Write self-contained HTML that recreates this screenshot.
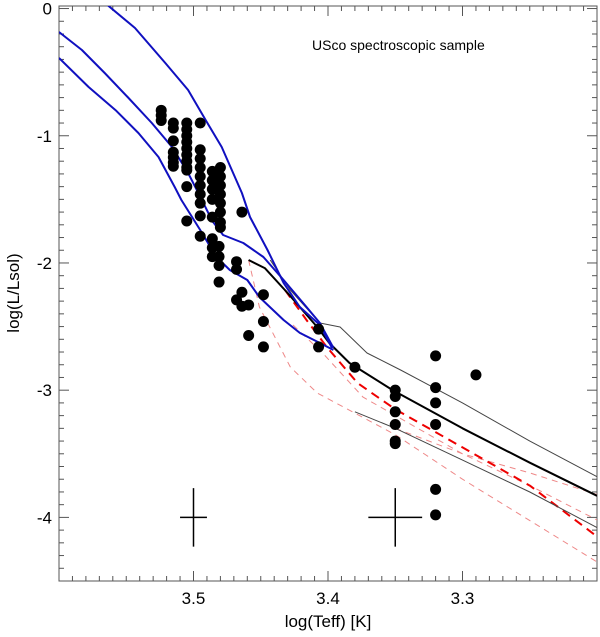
<!DOCTYPE html>
<html><head><meta charset="utf-8"><style>
body{margin:0;background:#fff;}
svg{display:block;font-family:"Liberation Sans",sans-serif;}
</style></head><body>
<svg id="chart" width="600" height="637" xmlns="http://www.w3.org/2000/svg"></svg>
<script>
const xTicks=[3.5,3.4,3.3];
const xTickLabels=["3.5","3.4","3.3"];
const yTicks=[0,-1,-2,-3,-4];
const yTickLabels=["0","-1","-2","-3","-4"];
const starT=[3.524,3.524,3.524,3.515,3.515,3.515,3.515,3.515,3.515,3.515,3.505,3.505,3.505,3.505,3.505,3.505,3.505,3.505,3.505,3.505,3.505,3.495,3.495,3.495,3.495,3.495,3.495,3.495,3.495,3.495,3.495,3.486,3.486,3.486,3.486,3.486,3.486,3.486,3.486,3.48,3.48,3.48,3.48,3.48,3.48,3.48,3.48,3.481,3.481,3.481,3.481,3.464,3.468,3.468,3.464,3.468,3.464,3.459,3.448,3.448,3.459,3.448,3.407,3.407,3.38,3.35,3.35,3.35,3.35,3.35,3.35,3.32,3.32,3.32,3.32,3.32,3.32,3.29];
const starL=[-0.8,-0.84,-0.88,-0.9,-0.94,-1.04,-1.13,-1.17,-1.21,-1.24,-0.9,-0.95,-1.0,-1.05,-1.1,-1.15,-1.2,-1.25,-1.27,-1.4,-1.67,-0.9,-1.11,-1.18,-1.25,-1.32,-1.39,-1.46,-1.53,-1.63,-1.79,-1.28,-1.35,-1.42,-1.5,-1.64,-1.81,-1.88,-1.95,-1.25,-1.32,-1.39,-1.46,-1.53,-1.6,-1.68,-1.72,-1.87,-1.95,-2.02,-2.15,-1.6,-1.99,-2.05,-2.23,-2.29,-2.34,-2.33,-2.25,-2.46,-2.57,-2.66,-2.52,-2.66,-2.82,-3.0,-3.05,-3.17,-3.27,-3.4,-3.42,-2.73,-2.98,-3.1,-3.27,-3.78,-3.98,-2.88];
const isoAT=[3.564,3.5435,3.521,3.504,3.491,3.479,3.464,3.458,3.445,3.433,3.421,3.406,3.397];
const isoAL=[0.028,-0.153,-0.428,-0.64,-0.876,-1.088,-1.45,-1.639,-1.898,-2.157,-2.346,-2.488,-2.668];
const isoBT=[3.6,3.583,3.566,3.549,3.531,3.516,3.504,3.494,3.486,3.478,3.463,3.448,3.433,3.416,3.406,3.396];
const isoBL=[-0.184,-0.326,-0.507,-0.695,-0.9,-1.088,-1.293,-1.5,-1.67,-1.78,-1.843,-1.953,-2.134,-2.346,-2.472,-2.668];
const isoCT=[3.6,3.578,3.558,3.541,3.526,3.514,3.509,3.495,3.483,3.473,3.46,3.451,3.433,3.421,3.406,3.396];
const isoCL=[-0.389,-0.617,-0.798,-0.978,-1.167,-1.403,-1.505,-1.741,-1.953,-2.055,-2.134,-2.268,-2.448,-2.55,-2.629,-2.684];
const thickT=[3.459,3.447,3.43,3.408,3.399,3.384,3.352,3.3,3.25,3.2];
const thickL=[-1.977,-2.04,-2.236,-2.503,-2.629,-2.786,-2.999,-3.3,-3.57,-3.83];
const thinUT=[3.443,3.428,3.406,3.391,3.371,3.346,3.3,3.25,3.2];
const thinUL=[-1.977,-2.213,-2.472,-2.503,-2.708,-2.841,-3.1,-3.4,-3.68];
const thinLT=[3.38,3.35,3.3,3.25,3.2];
const thinLL=[-3.17,-3.3,-3.55,-3.8,-4.08];
const redThickT=[3.432,3.416,3.401,3.378,3.35,3.3,3.25,3.2];
const redThickL=[-2.213,-2.448,-2.66,-2.944,-3.15,-3.45,-3.75,-4.15];
const red1T=[3.459,3.451,3.428,3.408,3.35,3.3,3.2];
const red1L=[-1.977,-2.346,-2.818,-3.022,-3.35,-3.7,-4.35];
const red2T=[3.426,3.404,3.374,3.3,3.25,3.2];
const red2L=[-2.488,-2.708,-3.054,-3.5,-3.75,-4.02];
const red3T=[3.35,3.3,3.25,3.2];
const red3L=[-3.3,-3.5,-3.65,-3.82];
const crossT=[3.5,3.35];
const crossL=[-4,-4];
const crossDT=[0.01,0.02];
const crossDL=[0.23,0.23];

const svg=document.getElementById('chart');
const NS='http://www.w3.org/2000/svg';
const L=59,R=597,T=6,B=581;
const x=v=>L+(3.6-v)*(R-L)/0.4;
const y=v=>T+(0.02-v)*(B-T)/4.52;
function mk(tag,attrs,parent){const e=document.createElementNS(NS,tag);for(const k in attrs)e.setAttribute(k,attrs[k]);(parent||svg).appendChild(e);return e;}

const axes=mk('g',{});


const frame=mk('rect',{x:L,y:T,width:R-L,height:B-T,fill:'none',stroke:'#555','stroke-width':1},axes);


for(let i=0;i<=40;i++){const v=3.6-i*0.01;const px=x(v);const major=Math.abs(v*10-Math.round(v*10))<1e-6;const len=major?10:5;
 mk('line',{x1:px,y1:B,x2:px,y2:B-len,stroke:'#555'},axes);mk('line',{x1:px,y1:T,x2:px,y2:T+len,stroke:'#555'},axes);}
for(let i=0;i<=45;i++){const v=-i*0.1;const py=y(v);const major=i%10==0;const len=major?10:5;
 mk('line',{x1:L,y1:py,x2:L+len,y2:py,stroke:'#555'},axes);mk('line',{x1:R,y1:py,x2:R-len,y2:py,stroke:'#555'},axes);}
xTicks.forEach((v,i)=>{const t=mk('text',{x:x(v),y:604,'font-size':17,'text-anchor':'middle'},axes);t.textContent=xTickLabels[i];
 
 });
yTicks.forEach((v,i)=>{const t=mk('text',{x:52,y:y(v)+6,'font-size':17,'text-anchor':'end'},axes);t.textContent=yTickLabels[i];
 
 });
const xt=mk('text',{x:328,y:627,'font-size':17,'text-anchor':'middle'});xt.textContent='log(Teff) [K]';


const yt=mk('text',{x:0,y:0,'font-size':17,'text-anchor':'middle',transform:'translate(19,293) rotate(-90)'});yt.textContent='log(L/Lsol)';


const ti=mk('text',{x:312,y:50,'font-size':14});ti.textContent='USco spectroscopic sample';



const clip=mk('clipPath',{id:'cp'});mk('rect',{x:L,y:T,width:R-L,height:B-T},clip);
function line(ts,ls,stroke,w,dash,name){const d=ts.map((t,i)=>(i?'L':'M')+x(t).toFixed(1)+','+y(ls[i]).toFixed(1)).join('');
 const p=mk('path',{d:d,fill:'none',stroke:stroke,'stroke-width':w,'clip-path':'url(#cp)','stroke-linejoin':'round'});if(dash)p.setAttribute('stroke-dasharray',dash);
 
 }
line(red1T,red1L,'#e88','1','6,5','red-dashed-track-1');
line(red2T,red2L,'#e88','1','6,5','red-dashed-track-2');
line(red3T,red3L,'#e88','1','6,5','red-dashed-track-3');
line(redThickT,redThickL,'#e00','2','9,6','red-dashed-thick-track');
line(thinUT,thinUL,'#444','1',null,'thin-upper-track');
line(thinLT,thinLL,'#444','1',null,'thin-lower-track');
line(thickT,thickL,'#000','2',null,'thick-black-track');
line(isoAT,isoAL,'#1010c0','2',null,'isochrone-upper');
line(isoBT,isoBL,'#1010c0','2',null,'isochrone-middle');
line(isoCT,isoCL,'#1010c0','2',null,'isochrone-lower');
starT.forEach((t,i)=>{const c=mk('circle',{cx:x(t),cy:y(starL[i]),r:5.5,fill:'#000'});
 
 });
crossT.forEach((t,i)=>{const g=mk('g',{stroke:'#000','stroke-width':1.5});
 
 
 mk('line',{x1:x(t-crossDT[i]),x2:x(t+crossDT[i]),y1:y(crossL[i]),y2:y(crossL[i])},g);
 mk('line',{x1:x(t),x2:x(t),y1:y(crossL[i]-crossDL[i]),y2:y(crossL[i]+crossDL[i])},g);});
</script>
</body></html>
